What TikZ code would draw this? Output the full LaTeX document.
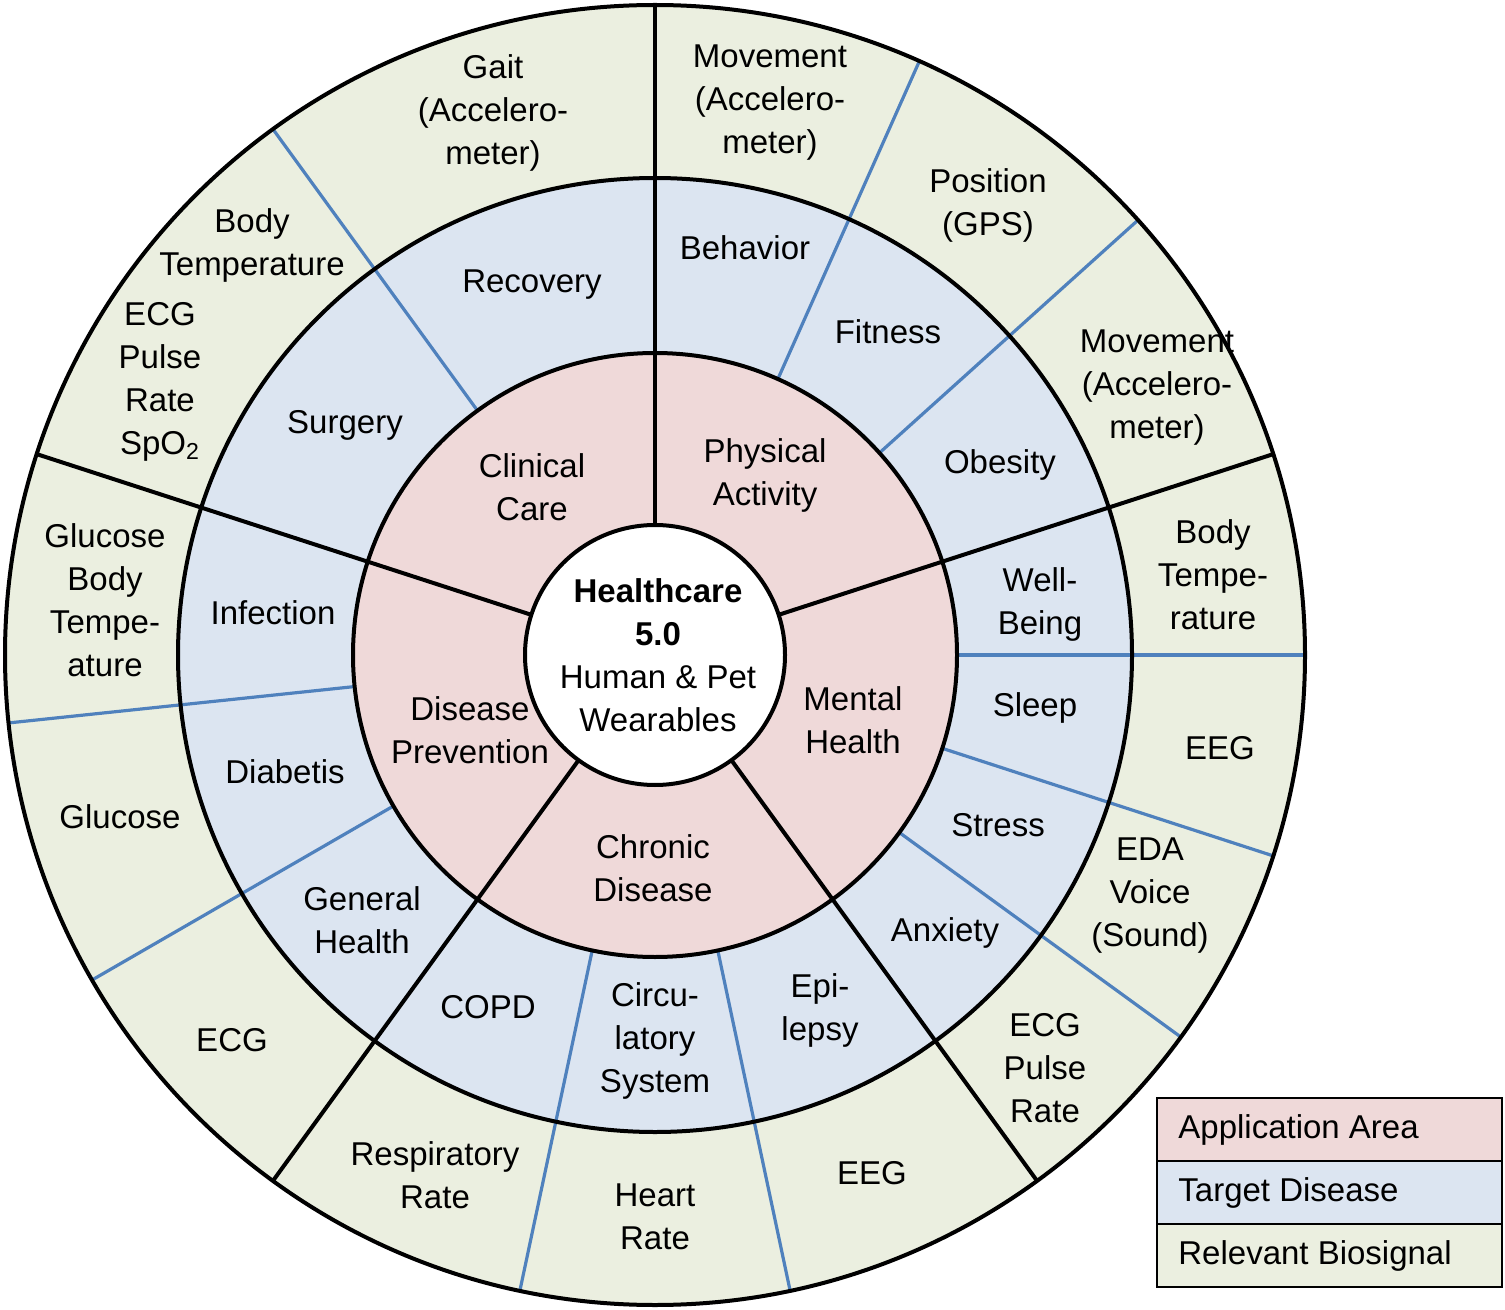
\documentclass[tikz,border=0pt]{standalone}
\usepackage{fontspec}
\setmainfont{Liberation Sans}
\definecolor{pinkc}{HTML}{EFD9D9}
\definecolor{bluec}{HTML}{DCE5F1}
\definecolor{greenc}{HTML}{EBEFE0}
\definecolor{linec}{HTML}{4F81BD}
\begin{document}
\begin{tikzpicture}[x=0.5pt,y=0.5pt,
  txt/.style={align=center,inner sep=0pt,font=\fontsize{16.5}{21.5}\selectfont},
  bline/.style={draw=linec,line width=1.6pt},
  kline/.style={draw=black,line width=2pt}]
\useasboundingbox (0,0) rectangle (1505,-1310);
\begin{scope}[shift={(655,-655)}]
\fill[greenc] (0,0) circle (650);
\fill[bluec] (0,0) circle (477);
\fill[pinkc] (0,0) circle (302);
\foreach \a in {126,66,42,0,-18,-36,-78,-102,186,210}
  \draw[bline] (\a:302) -- (\a:650);
\foreach \a in {90,18,-54,-126,162}
  \draw[kline] (\a:130) -- (\a:650);
\draw[kline] (0,0) circle (650);
\draw[kline] (0,0) circle (477);
\draw[kline] (0,0) circle (302);
\draw[kline,fill=white] (0,0) circle (130);
\end{scope}
\node[txt] (hc) at (658,-655) {\textbf{Healthcare}\\\textbf{5.0}\\Human \& Pet\\Wearables};
\node[txt] (a1) at (532,-487) {Clinical\\Care};
\node[txt] (a2) at (765,-475) {Physical\\Activity};
\node[txt] (a3) at (853,-720) {Mental\\Health};
\node[txt] (a4) at (653,-868) {Chronic\\Disease};
\node[txt] (a5) at (470,-730) {Disease\\Prevention};
\node[txt] (d1) at (532,-285) {Recovery};
\node[txt] (d2) at (345,-425) {Surgery};
\node[txt] (d3) at (745,-248) {Behavior};
\node[txt] (d4) at (888,-332) {Fitness};
\node[txt] (d5) at (1000,-465) {Obesity};
\node[txt] (d6) at (1040,-604) {Well-\\Being};
\node[txt] (d7) at (1035,-708) {Sleep};
\node[txt] (d8) at (998,-825) {Stress};
\node[txt] (d9) at (945,-933) {Anxiety};
\node[txt] (d10) at (820,-1010) {Epi-\\lepsy};
\node[txt] (d11) at (655,-1041) {Circu-\\latory\\System};
\node[txt] (d12) at (488,-1007) {COPD};
\node[txt] (d13) at (362,-920) {General\\Health};
\node[txt] (d14) at (285,-772) {Diabetis};
\node[txt] (d15) at (273,-613) {Infection};
\node[txt] (s1) at (493,-113) {Gait\\(Accelero-\\meter)};
\node[txt] (s2) at (770,-103) {Movement\\(Accelero-\\meter)};
\node[txt] (s3) at (988,-205) {Position\\(GPS)};
\node[txt] (s4) at (1157,-388) {Movement\\(Accelero-\\meter)};
\node[txt] (s5) at (1213,-575) {Body\\Tempe-\\rature};
\node[txt] (s6) at (1220,-748) {EEG};
\node[txt] (s7) at (1150,-896) {EDA\\Voice\\(Sound)};
\node[txt] (s8) at (1045,-1068) {ECG\\Pulse\\Rate};
\node[txt] (s9) at (872,-1173) {EEG};
\node[txt] (s10) at (655,-1217) {Heart\\Rate};
\node[txt] (s11) at (435,-1175) {Respiratory\\Rate};
\node[txt] (s12) at (232,-1040) {ECG};
\node[txt] (s13) at (120,-817) {Glucose};
\node[txt] (s14) at (105,-600) {Glucose\\Body\\Tempe-\\ature};
\node[txt] (s15) at (252,-245) {Body\\Temperature};
\node[txt] (s16) at (160,-382) {ECG\\Pulse\\Rate\\SpO\textsubscript{2}};
\draw[line width=1pt,fill=pinkc] (1157,-1098) rectangle (1502,-1161);
\draw[line width=1pt,fill=bluec] (1157,-1161) rectangle (1502,-1224);
\draw[line width=1pt,fill=greenc] (1157,-1224) rectangle (1502,-1287);
\node[txt,anchor=west] (l1) at (1178,-1130) {Application Area};
\node[txt,anchor=west] (l2) at (1178,-1193) {Target Disease};
\node[txt,anchor=west] (l3) at (1178,-1256) {Relevant Biosignal};
\end{tikzpicture}
\end{document}
